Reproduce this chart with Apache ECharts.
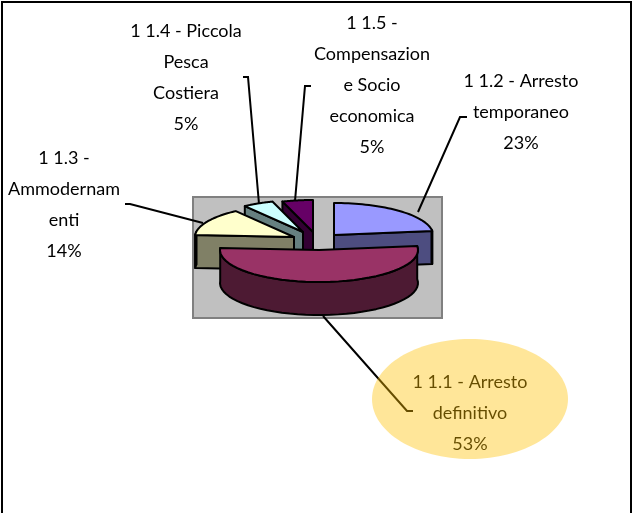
<!DOCTYPE html>
<html>
<head>
<meta charset="utf-8">
<title>Ripartizione</title>
<script src="https://cdn.jsdelivr.net/npm/echarts@6/dist/echarts.min.js"></script>
<style>
  html, body { margin: 0; padding: 0; background: #fff; }
  #main { width: 635px; height: 513px; }
</style>
</head>
<body>
<div id="main"></div>
<script>
// clockwise from 12 o'clock
var categories = ['1 1.2 - Arresto\ntemporaneo', '1 1.1 - Arresto\ndefinitivo', '1 1.3 -\nAmmodernam\nenti', '1 1.4 - Piccola\nPesca\nCostiera', '1 1.5 -\nCompensazion\ne Socio\neconomica'];
var percents = [23, 53, 14, 5, 5];

var topColors = ['#9999FF', '#993366', '#FFFFCC', '#CCFFFF', '#660066'];
var sideColors = ['#4D4D80', '#4D1A33', '#808066', '#668080', '#330033'];
var drawOrder = [4, 3, 2, 0, 1]; // back to front, the big slice last

// exploded slices: where each tip ends up
var tips = [[334, 235], [319, 250], [294, 237], [303, 232], [313, 232]];
var labelPos = [[521, 66], [470, 367], [64, 143], [186, 16], [372, 8]];
var leaders = [
  [[467, 117], [460, 117], [418, 212]],
  [[413, 411], [407, 411], [323, 316]],
  [[125, 204], [130, 204], [203, 223]],
  [[243, 77], [248, 77], [259, 204]],
  [[311, 86], [305, 86], [295, 201]]
];
var rx = 99, ry = 32, depth = 33;

var total = percents.reduce(function (a, b) { return a + b; }, 0);
var starts = [], acc = 0;
percents.forEach(function (v) { starts.push(acc / total * 360); acc += v; });

function pt(tip, deg) {
  var r = deg * Math.PI / 180;
  return [tip[0] + rx * Math.sin(r), tip[1] - ry * Math.cos(r)];
}
function arc(tip, a, b) {
  var out = [];
  for (var i = 0; i <= 40; i++) out.push(pt(tip, a + (b - a) * i / 40));
  return out;
}
function down(p) { return [p[0], p[1] + depth]; }
function poly(points, fill, z2) {
  return {
    type: 'polygon', z2: z2,
    shape: { points: points },
    style: { fill: fill, stroke: '#000', lineWidth: 2, lineJoin: 'round' }
  };
}

function renderItem(params, api) {
  var i = params.dataIndex;
  var tip = tips[i];
  var a = starts[i], b = a + api.value(0) / total * 360;
  var rank = drawOrder.indexOf(i) * 10 + 10;
  var side = sideColors[i], kids = [];

  // cut faces, only those turned towards us
  if (a > 180) {
    var pa = pt(tip, a);
    kids.push(poly([tip, pa, down(pa), down(tip)], side, rank));
  }
  if (b < 180) {
    var pb = pt(tip, b);
    kids.push(poly([tip, pb, down(pb), down(tip)], side, rank));
  }
  // outer wall, only the part facing us
  var f = Math.max(a, 80), t = Math.min(b, 280);
  if (t > f) {
    var wall = arc(tip, f, t);
    kids.push(poly(wall.concat(wall.map(down).reverse()), side, rank + 1));
  }
  kids.push(poly([tip].concat(arc(tip, a, b)), topColors[i], rank + 2));

  kids.push({
    type: 'polyline', z2: 70,
    shape: { points: leaders[i] },
    style: { fill: null, stroke: '#000', lineWidth: 2 }
  });
  kids.push({
    type: 'text', z2: 71,
    style: {
      text: categories[i] + '\n' + api.value(0) + '%',
      x: labelPos[i][0], y: labelPos[i][1],
      align: 'center', verticalAlign: 'top',
      font: '18px Lato, sans-serif',
      lineHeight: 31, fill: '#000'
    }
  });
  return { type: 'group', children: kids };
}

var chart = echarts.init(document.getElementById('main'));
chart.setOption({
  animation: false,
  backgroundColor: '#fff',
  graphic: [
    { type: 'rect', z: -1, silent: true, shape: { x: 2, y: 2, width: 629, height: 530 },
      style: { fill: '#fff', stroke: '#000', lineWidth: 2 } },
    { type: 'rect', z: 0, silent: true, shape: { x: 193, y: 197, width: 249, height: 121 },
      style: { fill: '#C0C0C0', stroke: '#808080', lineWidth: 2 } },
    { type: 'ellipse', z: 10, silent: true, shape: { cx: 470, cy: 399, rx: 98, ry: 60 },
      style: { fill: '#FFC000', opacity: 0.4 } }
  ],
  series: [{
    type: 'custom',
    coordinateSystem: 'none',
    silent: true,
    z: 2,
    renderItem: renderItem,
    data: percents
  }]
});
</script>
</body>
</html>
